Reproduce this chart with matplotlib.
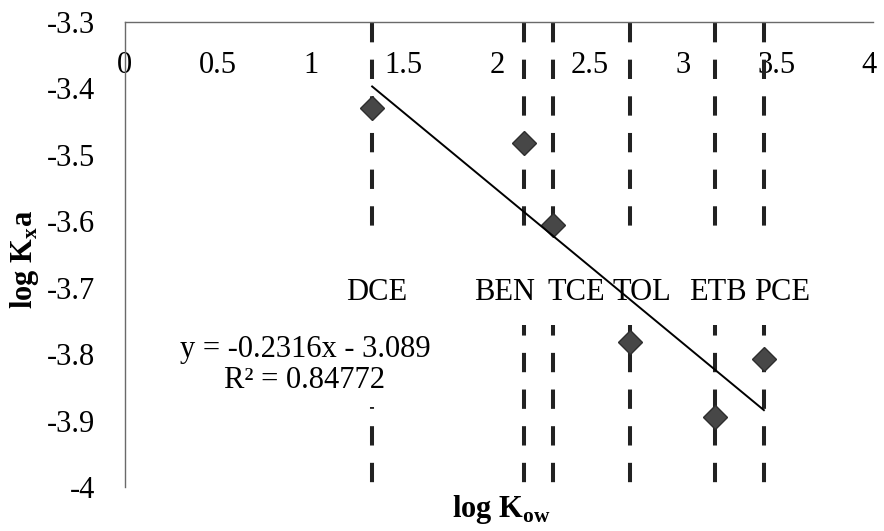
import matplotlib
matplotlib.use("Agg")
import matplotlib.pyplot as plt
from matplotlib.patches import Rectangle

plt.rcParams["font.family"] = ["Liberation Serif", "DejaVu Serif"]
plt.rcParams["mathtext.fontset"] = "custom"
plt.rcParams["mathtext.rm"] = "Liberation Serif"
plt.rcParams["mathtext.bf"] = "Liberation Serif:bold"
plt.rcParams["axes.unicode_minus"] = False

# data
compounds = ["DCE", "BEN", "TCE", "TOL", "ETB", "PCE"]
log_kow = [1.33, 2.145, 2.30, 2.714, 3.17, 3.434]
log_kxa = [-3.43, -3.482, -3.606, -3.782, -3.895, -3.808]

# trendline as printed on the chart
slope = -0.2316
intercept = -3.089
r2 = 0.84772

x_ticks = [0, 0.5, 1, 1.5, 2, 2.5, 3, 3.5, 4]
x_ticklabels = ["0", "0.5", "1", "1.5", "2", "2.5", "3", "3.5", "4"]
y_ticks = [-3.3, -3.4, -3.5, -3.6, -3.7, -3.8, -3.9, -4.0]
y_ticklabels = ["-3.3", "-3.4", "-3.5", "-3.6", "-3.7", "-3.8", "-3.9", "-4"]

# horizontal nudges (points) of the compound names from their lines
name_dx = [3, -14, 17, 9, 2, 13]

fig = plt.figure(figsize=(8.84, 5.31), dpi=100)
ax = fig.add_axes([124.5 / 884, 1 - 487 / 531, (873 - 124.5) / 884, (487 - 22) / 531])

ax.set_xlim(0, 4.02)
ax.set_ylim(-4.0, -3.3)

# dashed drop lines for each compound
for x in log_kow:
    ax.plot([x, x], [-3.302, -4.01], color="#222222", lw=2.9,
            linestyle=(0, (4.8, 4.3)), solid_capstyle="butt",
            dash_capstyle="butt", clip_on=False, zorder=2)

# white label backgrounds (hide the dashes behind the labels)
ax.add_patch(Rectangle((1.0, -3.756), 2.7, 0.135, facecolor="white",
                       edgecolor="none", zorder=2.5))
ax.add_patch(Rectangle((0.25, -3.88), 1.45, 0.124, facecolor="white",
                       edgecolor="none", zorder=2.5))

ax.plot(log_kow, log_kxa, linestyle="none", marker="D", markersize=12.5,
        markerfacecolor="#474747", markeredgecolor="#2e2e2e",
        markeredgewidth=1, zorder=3)

x_fit = [min(log_kow), max(log_kow)]
y_fit = [slope * v + intercept for v in x_fit]
ax.plot(x_fit, y_fit, color="black", lw=1.4, zorder=4)

for name, x, dx in zip(compounds, log_kow, name_dx):
    ax.annotate(name, (x, -3.719), xytext=(dx, 0), textcoords="offset points",
                ha="center", va="baseline", fontsize=22, zorder=3.6)

ax.text(0.969, -3.8045, f"y = {slope}x - {abs(intercept)}", ha="center",
        va="baseline", fontsize=22, zorder=3.6)
ax.text(0.969, -3.851, f"R² = {r2}", ha="center", va="baseline", fontsize=22,
        zorder=3.6)

# axes styling: x axis along the top, no right/bottom lines
for side in ["right", "bottom"]:
    ax.spines[side].set_visible(False)
for side in ["left", "top"]:
    ax.spines[side].set_color("#6a6a6a")
    ax.spines[side].set_linewidth(1.0)

ax.set_xticks(x_ticks)
ax.set_xticklabels(x_ticklabels)
ax.set_yticks(y_ticks)
ax.set_yticklabels(y_ticklabels)
ax.tick_params(axis="x", top=True, bottom=False, labeltop=True,
               labelbottom=False, length=0, pad=-42, labelsize=22)
ax.tick_params(axis="y", length=0, pad=21, labelsize=22)

ax.set_xlabel(r"log K$_{\mathbf{ow}}$", fontsize=22, fontweight="bold")
ax.xaxis.set_label_position("bottom")
ax.xaxis.set_label_coords(0.504, -0.012)
ax.set_ylabel(r"log K$_{\mathbf{x}}$a", fontsize=22, fontweight="bold")
ax.yaxis.set_label_coords(-0.111, 0.49)

fig.savefig("out.png", dpi=100)
